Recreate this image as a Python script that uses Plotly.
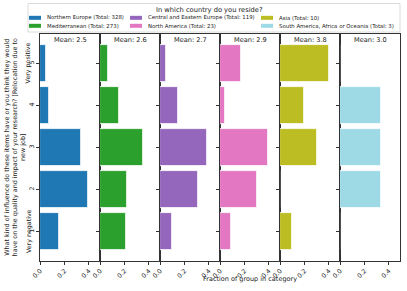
import plotly.graph_objects as go
from plotly.subplots import make_subplots

# ---- data ----
ratings = [1, 2, 3, 4, 5]
rating_ticks = ["1", "2", "3", "4", "5"]
groups = ["Northern Europe", "Mediterranean", "Central and Eastern Europe",
          "North America", "Asia", "South America, Africa or Oceania"]
totals = [328, 273, 119, 23, 10, 3]
means = ["2.5", "2.6", "2.7", "2.9", "3.8", "3.0"]
frac_northern = [0.159, 0.393, 0.332, 0.070, 0.046]
frac_mediterranean = [0.212, 0.220, 0.348, 0.154, 0.066]
frac_central_eastern = [0.101, 0.311, 0.387, 0.151, 0.050]
frac_north_america = [0.087, 0.304, 0.391, 0.043, 0.174]
frac_asia = [0.100, 0.0, 0.300, 0.200, 0.400]
frac_south_america = [0.0, 0.333, 0.333, 0.333, 0.0]
fractions = [frac_northern, frac_mediterranean, frac_central_eastern,
             frac_north_america, frac_asia, frac_south_america]
colors = ["#1f77b4", "#2ca02c", "#9467bd", "#e377c2", "#bcbd22", "#9edae5"]
x_ticks = [0.0, 0.2, 0.4]
x_tick_text = ["0.0", "0.2", "0.4"]

W, H = 407, 291
L, R, T, B = 40, 7, 33.5, 30.3
PW, PH = W - L - R, H - T - B
FONT = "DejaVu Sans"
TXT = "#222"

def px_x(px):
    return (px - L) / PW

def px_y(py):
    return (H - B - py) / PH

fig = make_subplots(rows=1, cols=6, shared_yaxes=False, horizontal_spacing=0)

for i, (g, f, c) in enumerate(zip(groups, fractions, colors)):
    fig.add_trace(go.Bar(x=f, y=ratings, orientation="h", width=0.9,
                         marker=dict(color=c, line=dict(color="white", width=0.8)),
                         name=f"{g} (Total: {totals[i]})", showlegend=False),
                  row=1, col=i + 1)
    fig.update_xaxes(range=[0, 0.49], tickvals=x_ticks, ticktext=x_tick_text,
                     tickangle=-45, ticks="outside", ticklen=3, tickwidth=0.8,
                     tickcolor="#333", showline=True, mirror=True, linecolor="#333",
                     linewidth=0.8, showgrid=False, zeroline=False,
                     tickfont=dict(size=6.3, family=FONT, color=TXT),
                     row=1, col=i + 1)
    fig.update_yaxes(range=[0.3, 5.7], tickvals=ratings, ticktext=rating_ticks,
                     tickangle=-90, ticks="outside", ticklen=3, tickwidth=0.8,
                     tickcolor="#333", showline=True, mirror=True, linecolor="#333",
                     linewidth=0.8, showgrid=False, zeroline=False,
                     showticklabels=(i == 0),
                     tickfont=dict(size=6.3, family=FONT, color=TXT),
                     row=1, col=i + 1)

annotations = []
# panel titles
for i in range(6):
    annotations.append(dict(text=f"Mean: {means[i]}", x=(i + 0.5) / 6, y=px_y(39.5),
                            xref="paper", yref="paper", xanchor="center", yanchor="middle",
                            showarrow=False,
                            font=dict(size=6.6, family=FONT, color=TXT)))
# extra y labels
annotations.append(dict(text="Very positive", x=px_x(28), y=5, xref="paper", yref="y",
                        textangle=-90, showarrow=False, xanchor="center", yanchor="middle",
                        font=dict(size=6.3, family=FONT, color=TXT)))
annotations.append(dict(text="Very negative", x=px_x(28.5), y=1, xref="paper", yref="y",
                        textangle=-90, showarrow=False, xanchor="center", yanchor="middle",
                        font=dict(size=6.3, family=FONT, color=TXT)))
# y title
annotations.append(dict(
    text="What kind of influence do these items have or you think they would<br>"
         "have on the quality and impact of your research? [Relocation due to<br>"
         "new job]",
    x=px_x(15), y=px_y(147), xref="paper", yref="paper", textangle=-90,
    showarrow=False, xanchor="center", yanchor="middle",
    font=dict(size=6.4, family=FONT, color=TXT)))
# x title
annotations.append(dict(text="Fraction of group in category", x=px_x(250), y=px_y(279),
                        xref="paper", yref="paper", showarrow=False,
                        xanchor="center", yanchor="middle",
                        font=dict(size=6.5, family=FONT, color=TXT)))

# legend (drawn manually to match column layout)
shapes = [dict(type="rect", xref="paper", yref="paper",
               x0=px_x(28), x1=px_x(400), y0=px_y(3), y1=px_y(31.5),
               line=dict(color="#d0d0d0", width=0.8), fillcolor="white", layer="above")]
annotations.append(dict(text="In which country do you reside?", x=px_x(209), y=px_y(9),
                        xref="paper", yref="paper", showarrow=False,
                        xanchor="center", yanchor="middle",
                        font=dict(size=6.7, family=FONT, color=TXT)))
col_x = [29, 130, 261]
row_y = [17.3, 25.3]
order = [(0, 0, 0), (1, 0, 1), (2, 1, 0), (3, 1, 1), (4, 2, 0), (5, 2, 1)]
for gi, ci, ri in order:
    x0 = col_x[ci]
    yc = row_y[ri]
    shapes.append(dict(type="rect", xref="paper", yref="paper",
                       x0=px_x(x0), x1=px_x(x0 + 12), y0=px_y(yc + 2), y1=px_y(yc - 2),
                       line=dict(width=0), fillcolor=colors[gi], layer="above"))
    annotations.append(dict(text=f"{groups[gi]} (Total: {totals[gi]})",
                            x=px_x(x0 + 16), y=px_y(yc), xref="paper", yref="paper",
                            showarrow=False, xanchor="left", yanchor="middle",
                            font=dict(size=5.4, family=FONT, color=TXT)))

fig.update_layout(width=W, height=H, margin=dict(l=L, r=R, t=T, b=B),
                  plot_bgcolor="white", paper_bgcolor="white",
                  annotations=annotations, shapes=shapes, bargap=0,
                  font=dict(family=FONT))
fig.write_html("out.html", config={"displayModeBar": False},
               post_script="document.body.style.margin='0px';document.body.style.overflow='hidden';")
